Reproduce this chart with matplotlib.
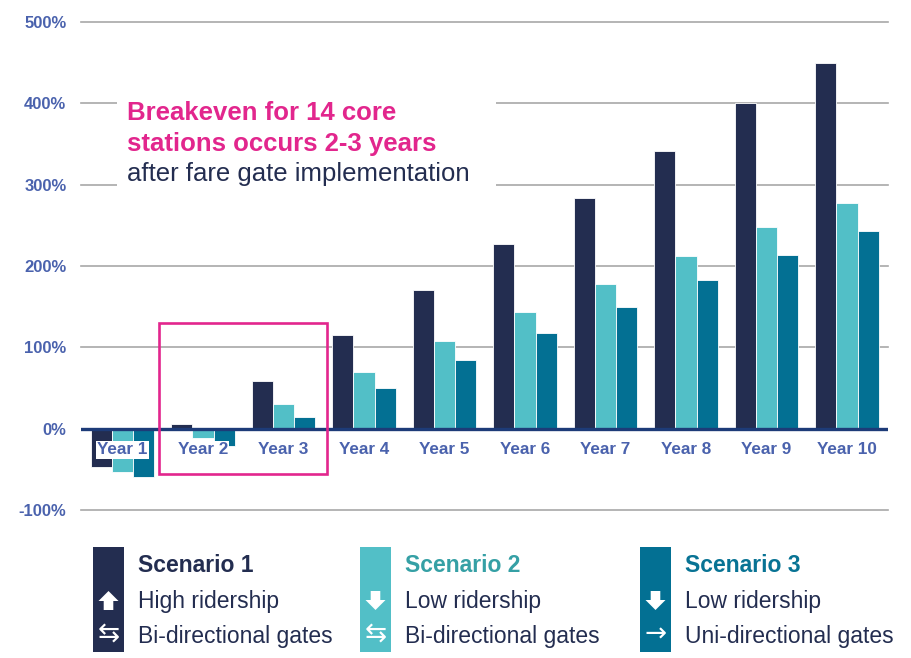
import matplotlib
matplotlib.use("Agg")
import numpy as np
import matplotlib.pyplot as plt
from matplotlib.patches import Rectangle, Polygon

years = ["Year 1", "Year 2", "Year 3", "Year 4", "Year 5",
         "Year 6", "Year 7", "Year 8", "Year 9", "Year 10"]
scenario1 = [-47, 6, 59, 115, 171, 227, 283, 341, 400, 449]
scenario2 = [-53, -11, 30, 70, 108, 144, 178, 212, 248, 277]
scenario3 = [-60, -21, 14, 50, 85, 118, 150, 183, 213, 243]
ytick_vals = [-100, 0, 100, 200, 300, 400, 500]

legend_heads = ["Scenario 1", "Scenario 2", "Scenario 3"]
legend_ridership = ["High ridership", "Low ridership", "Low ridership"]
legend_gates = ["Bi-directional gates", "Bi-directional gates", "Uni-directional gates"]

NAVY = "#232d50"
LIGHT = "#52bfc7"
TEAL = "#037093"
PINK = "#e2268d"
TICK = "#4a62ad"
ZERO = "#1d3b78"
GRID = "#a8a8a8"
HEAD_COLORS = [NAVY, "#35a0a5", "#087394"]
BAR_COLORS = [NAVY, LIGHT, TEAL]

FONT = "Liberation Sans"
W, H = 912, 658

fig = plt.figure(figsize=(W / 100, H / 100), dpi=100)
fig.patch.set_facecolor("white")

# main chart area, in pixel terms: x 81..888, y 22..510
ax = fig.add_axes([81 / W, 1 - 510 / H, (888 - 81) / W, (510 - 22) / H])
x = np.arange(len(years))
ax.set_xlim((81 - 122.5) / 80.5, (888 - 122.5) / 80.5)
ax.set_ylim(-100, 500)
for s in ax.spines.values():
    s.set_visible(False)

for v in ytick_vals:
    if v != 0:
        ax.axhline(v, color=GRID, lw=1.2, zorder=0, clip_on=False)

bw = 0.265
for k, vals in enumerate([scenario1, scenario2, scenario3]):
    ax.bar(x + (k - 1) * bw, vals, width=bw, color=BAR_COLORS[k],
           edgecolor="white", linewidth=0.6, zorder=2)

ax.axhline(0, color=ZERO, lw=2.4, zorder=3, xmin=-0.003)

ax.set_yticks(ytick_vals)
ax.set_yticklabels([f"{v}%" for v in ytick_vals], fontsize=12,
                   fontweight="bold", color=TICK, family=FONT)
ax.tick_params(axis="y", length=0, pad=10.5)
ax.set_xticks([])

for i, lab in enumerate(years):
    ax.annotate(lab, xy=(i, 0), xytext=(0, -15.2), textcoords="offset points",
                ha="center", va="center", fontsize=12.3, fontweight="bold",
                color=TICK, family=FONT, zorder=5,
                bbox=dict(boxstyle="square,pad=0.08", fc="white", ec="none"))

# highlight box around years 2-3
ax.add_patch(Rectangle((0.453, -55.3), 2.54 - 0.453, 130.3 + 55.3,
                       fill=False, ec=PINK, lw=1.9, zorder=6, clip_on=False))

# overlay in pixel coordinates for callout and legend
ov = fig.add_axes([0, 0, 1, 1], zorder=10)
ov.set_xlim(0, W)
ov.set_ylim(H, 0)
ov.axis("off")
ov.patch.set_alpha(0)

ov.add_patch(Rectangle((117, 88), 379, 110, fc="white", ec="none"))
ov.text(127, 120, "Breakeven for 14 core", fontsize=18.5, fontweight="bold",
        color=PINK, family=FONT, va="baseline")
ov.text(127, 150.5, "stations occurs 2-3 years", fontsize=18.5, fontweight="bold",
        color=PINK, family=FONT, va="baseline")
ov.text(127, 181.5, "after fare gate implementation", fontsize=18.5,
        color=NAVY, family=FONT, va="baseline")

bar_left = [93, 360, 640]
text_left = [138, 405, 685]


def block_arrow(cx, up):
    top, bot = 591, 610
    head = 10
    hw, sw = 10, 4.8
    if up:
        mid = top + head
        pts = [(cx, top), (cx + hw, mid), (cx + sw, mid), (cx + sw, bot),
               (cx - sw, bot), (cx - sw, mid), (cx - hw, mid)]
    else:
        mid = bot - head
        pts = [(cx, bot), (cx + hw, mid), (cx + sw, mid), (cx + sw, top),
               (cx - sw, top), (cx - sw, mid), (cx - hw, mid)]
    ov.add_patch(Polygon(pts, closed=True, fc="white", ec="none"))


for k in range(3):
    bx = bar_left[k]
    ov.add_patch(Rectangle((bx, 547), 31, 105, fc=BAR_COLORS[k], ec="none"))
    cx = bx + 15.5
    block_arrow(cx, up=(k == 0))
    glyph = "\u21c6" if k < 2 else "\u2192"
    ov.text(cx, 635, glyph, fontsize=19, color="white", ha="center",
            va="center", family=["DejaVu Sans"])
    tx = text_left[k]
    ov.text(tx, 572, legend_heads[k], fontsize=16.5, fontweight="bold",
            color=HEAD_COLORS[k], family=FONT, va="baseline")
    ov.text(tx, 608, legend_ridership[k], fontsize=16.5, color=NAVY,
            family=FONT, va="baseline")
    ov.text(tx, 643, legend_gates[k], fontsize=16.5, color=NAVY,
            family=FONT, va="baseline")

fig.savefig("out.png", dpi=100)
